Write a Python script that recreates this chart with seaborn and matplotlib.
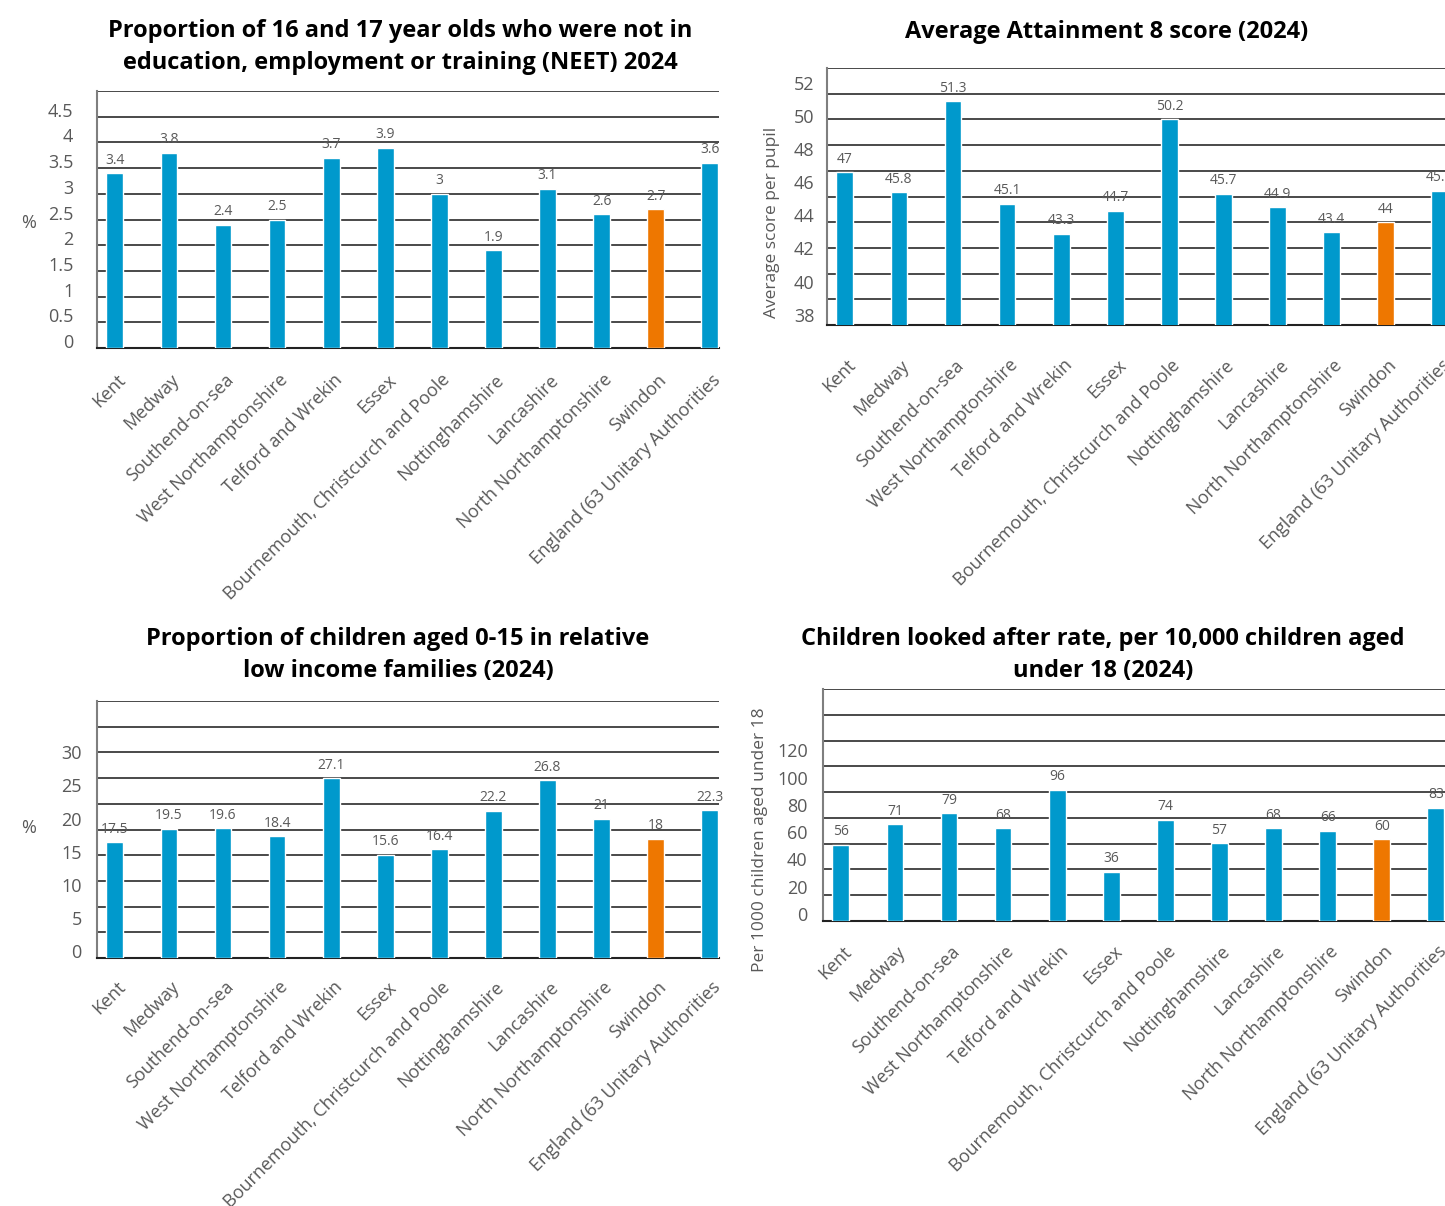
import numpy as np
import matplotlib
matplotlib.use("Agg")
import matplotlib.pyplot as plt
import matplotlib.transforms as mtrans
import seaborn as sns

areas = ["Kent", "Medway", "Southend-on-sea", "West Northamptonshire",
         "Telford and Wrekin", "Essex", "Bournemouth, Christcurch and Poole",
         "Nottinghamshire", "Lancashire", "North Northamptonshire", "Swindon",
         "England (63 Unitary Authorities"]

neet = [3.4, 3.8, 2.4, 2.5, 3.7, 3.9, 3.0, 1.9, 3.1, 2.6, 2.7, 3.6]
attainment8 = [47, 45.8, 51.3, 45.1, 43.3, 44.7, 50.2, 45.7, 44.9, 43.4, 44, 45.9]
low_income = [17.5, 19.5, 19.6, 18.4, 27.1, 15.6, 16.4, 22.2, 26.8, 21, 18, 22.3]
looked_after = [56, 71, 79, 68, 96, 36, 74, 57, 68, 66, 60, 83]

neet_ticks = np.arange(0, 5, 0.5)
att8_ticks = np.arange(38, 53, 2)
income_ticks = np.arange(0, 31, 5)
cla_ticks = np.arange(0, 121, 20)

BLUE = "#0099CC"
ORANGE = "#EE7700"
GREY = "#595959"
palette = {a: (ORANGE if a == "Swindon" else BLUE) for a in areas}

sns.set_style("white")
plt.rcParams["font.family"] = ["Open Sans", "DejaVu Sans"]

W, H = 1445, 1206
fig = plt.figure(figsize=(W / 100, H / 100), dpi=100)


def px_axes(left, top, right, bottom):
    return fig.add_axes([left / W, 1 - bottom / H, (right - left) / W, (bottom - top) / H])


def draw_panel(ax, values, ticks, ylim, n_grid, ypad, xpad):
    sns.barplot(x=areas, y=values, hue=areas, palette=palette, legend=False,
                width=0.31, saturation=1, ax=ax, zorder=3)
    ax.set_xlim(-0.33, 11.17)
    ax.set_ylim(*ylim)
    # grid lines are evenly spaced over the frame, not tied to the ticks
    ax.hlines(np.linspace(0, 1, n_grid + 1)[1:], 0, 1, transform=ax.transAxes,
              color="#3a3a3a", lw=1.3, zorder=1)
    for c in ax.containers:
        ax.bar_label(c, fmt="{:g}", padding=4, fontsize=10, color=GREY)
    ax.set_yticks(ticks)
    ax.set_yticklabels([f"{t:g}" for t in ticks])
    ax.tick_params(axis="y", length=0, pad=ypad, labelsize=13, labelcolor=GREY)
    ax.tick_params(axis="x", length=0, pad=xpad, labelsize=13, labelcolor=GREY)
    shift = mtrans.ScaledTranslation(0, 0.07, fig.dpi_scale_trans)
    for lab in ax.get_yticklabels():
        lab.set_transform(lab.get_transform() + shift)
    xshift = mtrans.ScaledTranslation(0.08, 0, fig.dpi_scale_trans)
    for lab in ax.get_xticklabels():
        lab.set_rotation(45)
        lab.set_ha("right")
        lab.set_va("center")
        lab.set_rotation_mode("anchor")
        lab.set_transform(lab.get_transform() + xshift)
    for s in ["top", "right"]:
        ax.spines[s].set_visible(False)
    ax.spines["left"].set_color("#7f7f7f")
    ax.spines["left"].set_linewidth(1.5)
    ax.spines["bottom"].set_color("#222222")
    ax.spines["bottom"].set_linewidth(1.5)
    ax.set_xlabel("")


ax1 = px_axes(97, 91, 719, 348)
draw_panel(ax1, neet, neet_ticks, (0, 5), 10, 17, 21)
ax1.set_ylabel("%", rotation=0, fontsize=13, color=GREY)
ax1.yaxis.set_label_coords(-0.11, 0.45)

ax2 = px_axes(827, 68, 1449, 325)
draw_panel(ax2, attainment8, att8_ticks, (37.8, 53.3), 10, 9, 27)
ax2.set_ylabel("Average score per pupil", fontsize=12.5, color=GREY)
ax2.yaxis.set_label_coords(-0.075, 0.40)

ax3 = px_axes(97, 701, 719, 958)
draw_panel(ax3, low_income, income_ticks, (0, 38.8), 10, 11, 19)
ax3.set_ylabel("%", rotation=0, fontsize=13, color=GREY)
ax3.yaxis.set_label_coords(-0.11, 0.47)

ax4 = px_axes(823, 689, 1445, 921)
draw_panel(ax4, looked_after, cla_ticks, (0, 170), 9, 11, 20)
ax4.set_ylabel("Per 1000 children aged under 18", fontsize=12.5, color=GREY)
ax4.yaxis.set_label_coords(-0.088, 0.35)

title_kw = dict(ha="center", va="center", fontsize=17, fontweight="bold", color="black",
                linespacing=1.4)
fig.text(400 / W, 1 - 47 / H,
         "Proportion of 16 and 17 year olds who were not in\n"
         "education, employment or training (NEET) 2024", **title_kw)
fig.text(1107 / W, 1 - 32 / H, "Average Attainment 8 score (2024)", **title_kw)
fig.text(398 / W, 1 - 655 / H,
         "Proportion of children aged 0-15 in relative\nlow income families (2024)", **title_kw)
fig.text(1103 / W, 1 - 655 / H,
         "Children looked after rate, per 10,000 children aged\nunder 18 (2024)", **title_kw)

fig.savefig("out.png", dpi=100)
